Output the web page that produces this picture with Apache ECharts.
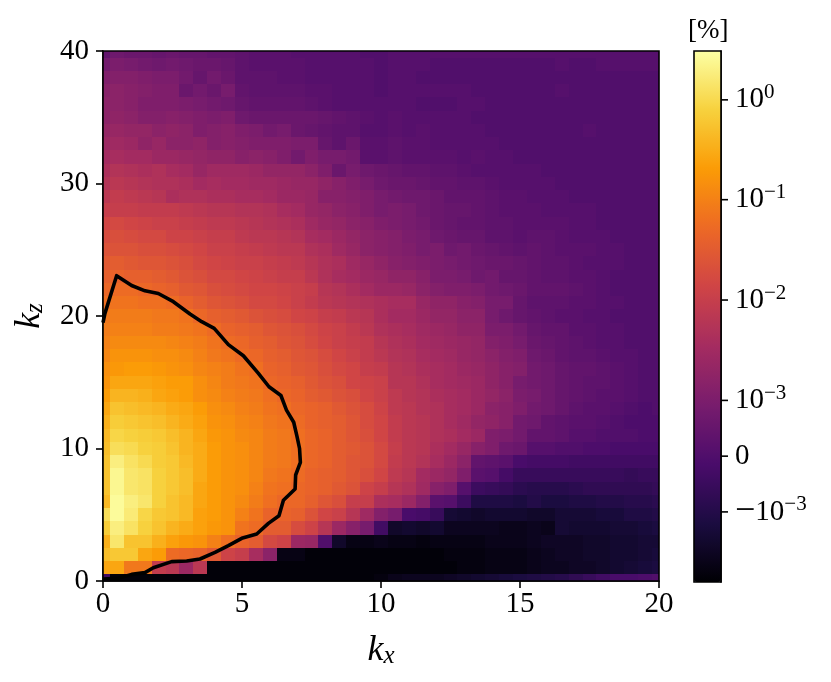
<!DOCTYPE html>
<html><head><meta charset="utf-8">
<script src="https://cdn.jsdelivr.net/npm/echarts@6/dist/echarts.min.js"></script>
<style>html,body{margin:0;padding:0;background:#fff}#c{width:831px;height:682px}</style></head>
<body><div id="c"></div>
<script>
const kx = Array.from({length:41},(_,i)=>i*0.5);
const kz40=[28,31,30,30,29,30,29,29,28,28,27,26,26,26,25,25,25,25,25,24,24,25,25,25,25,25,25,25,25,25,25,25,25,25,25,25,25,25,25,25,25];
const kz39=[32,34,33,32,31,32,31,30,30,29,27,26,26,26,26,25,25,25,25,25,24,25,25,25,24,24,24,24,24,24,24,24,24,25,24,24,25,25,25,25,25];
const kz38=[35,36,36,35,34,34,32,29,32,30,27,27,27,26,26,25,25,25,25,25,24,25,25,24,24,24,24,24,24,24,24,24,24,24,24,24,24,24,24,24,24];
const kz37=[37,38,37,36,35,35,30,32,30,33,28,27,27,27,27,26,26,25,25,25,24,25,25,25,25,25,25,24,24,24,24,24,24,25,24,24,24,24,24,24,24];
const kz36=[38,38,37,35,35,35,34,33,32,31,29,28,28,28,28,27,26,25,25,25,25,25,25,24,24,24,25,25,24,24,24,24,24,24,24,24,24,24,24,24,24];
const kz35=[38,39,38,36,36,37,36,35,34,35,31,30,30,30,30,30,29,28,27,26,25,26,25,25,25,25,25,24,24,24,24,24,24,24,24,24,24,24,24,24,24];
const kz34=[40,41,40,40,38,39,38,35,36,37,35,34,32,33,30,29,28,27,27,25,25,26,25,26,25,25,25,25,24,24,24,24,24,24,24,25,24,24,24,24,24];
const kz33=[42,43,42,39,41,38,38,39,36,37,36,35,35,35,34,34,29,27,30,26,26,27,26,26,25,25,25,25,25,24,24,24,24,24,24,24,24,24,24,24,24];
const kz32=[44,45,44,44,42,42,41,40,39,39,37,38,37,35,32,35,33,33,32,26,26,27,26,26,26,26,25,26,25,25,24,24,24,24,24,24,24,24,24,24,24];
const kz31=[46,48,47,46,47,45,44,41,43,43,43,42,40,40,40,38,35,30,33,31,30,29,28,28,27,27,26,25,25,25,25,25,24,24,24,24,24,24,24,24,24];
const kz30=[48,50,49,48,47,47,46,44,45,44,44,43,43,42,41,41,39,37,35,33,31,30,30,29,28,28,27,27,26,25,25,25,25,24,24,24,24,24,24,24,24];
const kz29=[50,52,51,50,49,46,47,47,46,46,45,45,44,42,42,41,37,37,36,35,33,32,31,31,30,28,28,28,27,26,26,25,25,25,24,24,24,24,24,24,24];
const kz28=[53,53,53,52,52,52,51,50,49,49,48,48,47,45,44,41,40,38,37,35,33,34,33,31,30,29,29,28,27,26,26,26,25,25,25,25,24,24,24,24,24];
const kz27=[56,57,56,55,54,54,53,52,51,51,50,49,48,47,46,43,41,40,38,37,35,34,33,32,30,29,28,28,27,27,26,26,26,26,25,25,24,24,24,24,24];
const kz26=[58,59,58,57,57,55,55,54,53,53,51,50,50,49,48,45,44,42,40,38,37,36,34,33,31,30,29,29,27,27,26,27,27,26,25,25,25,24,24,24,24];
const kz25=[60,60,60,59,59,58,57,56,54,54,53,52,51,50,50,47,46,43,41,38,37,36,35,33,34,31,32,30,29,28,27,28,27,26,26,26,25,25,24,24,24];
const kz24=[62,63,62,61,61,60,59,57,56,55,54,54,53,52,51,49,47,46,43,41,39,37,36,35,34,33,32,31,30,30,29,28,27,27,26,25,25,25,24,24,24];
const kz23=[64,65,64,64,63,62,60,59,57,57,56,55,54,53,53,50,47,45,44,42,41,39,39,37,34,34,33,31,32,29,29,28,27,27,26,26,25,24,24,24,24];
const kz22=[66,67,67,66,65,64,62,61,59,58,57,56,56,55,54,53,49,48,46,44,42,42,41,38,36,35,35,34,32,31,30,28,28,28,27,26,25,24,24,24,24];
const kz21=[68,69,69,68,68,67,65,63,61,60,59,57,57,56,54,52,50,49,48,47,46,45,45,41,39,39,37,36,33,33,29,27,27,27,26,26,25,25,24,24,24];
const kz20=[70,71,71,71,70,70,69,66,64,63,62,60,59,58,56,55,53,52,50,49,46,44,44,42,40,40,38,38,33,31,29,28,27,26,26,25,25,24,24,24,24];
const kz19=[71,72,72,72,71,71,70,69,67,65,64,63,61,60,59,57,55,54,52,50,47,46,45,43,42,41,39,39,34,34,32,29,28,28,26,26,25,25,24,24,24];
const kz18=[72,74,74,74,74,73,72,71,69,67,66,64,63,61,60,58,56,54,53,52,49,47,46,44,43,42,41,40,36,35,33,30,29,28,27,26,25,25,24,24,24];
const kz17=[73,76,76,76,75,75,74,72,70,69,67,66,64,63,61,60,58,56,54,52,50,48,47,45,44,43,41,40,38,36,35,31,30,28,27,27,26,25,25,24,24];
const kz16=[75,77,78,78,77,76,75,73,72,71,69,68,65,64,62,61,59,57,56,53,52,49,48,46,45,44,42,41,39,37,36,32,31,29,28,28,27,26,25,24,24];
const kz15=[76,80,80,80,79,78,78,75,73,71,70,69,66,65,64,62,60,59,56,55,54,49,49,47,45,44,43,42,39,37,33,32,31,29,28,27,27,26,25,24,24];
const kz14=[78,83,83,82,80,79,78,75,74,72,71,70,68,66,65,63,62,60,59,56,54,51,49,48,46,45,44,42,40,38,34,33,31,29,28,27,26,26,25,24,24];
const kz13=[80,86,85,84,83,81,80,78,75,74,72,71,69,68,66,65,64,62,60,58,55,51,50,48,47,45,44,42,38,37,35,32,31,29,27,26,26,25,24,23,24];
const kz12=[82,88,87,86,85,83,81,79,76,75,73,72,70,69,67,65,64,63,61,58,56,52,50,49,47,45,43,40,39,37,32,31,28,27,26,26,25,24,23,23,23];
const kz11=[84,90,89,88,87,85,83,80,77,76,74,73,71,70,68,66,65,63,61,59,56,52,50,49,47,46,44,42,35,34,32,28,28,27,25,25,24,24,24,23,23];
const kz10=[85,92,91,89,88,86,83,81,78,76,75,73,71,70,68,66,65,63,62,60,57,53,50,49,46,44,41,37,35,31,30,25,25,24,24,23,23,22,22,22,22];
const kz9 =[86,96,93,91,88,87,84,81,78,76,75,73,71,70,68,66,65,63,61,60,57,52,50,48,45,42,38,28,27,26,22,21,21,21,20,20,20,20,20,20,20];
const kz8 =[86,98,94,93,89,87,85,81,78,76,75,73,70,69,67,65,64,63,61,59,56,51,49,44,42,40,35,26,25,21,18,18,18,18,18,18,18,18,17,18,18];
const kz7 =[86,98,94,93,89,87,85,80,78,76,75,72,69,68,66,65,64,62,60,55,53,49,47,43,37,35,25,19,18,17,15,14,14,14,15,16,16,16,16,16,17];
const kz6 =[84,99,96,94,89,86,84,80,78,76,74,71,68,66,66,64,61,59,53,53,46,45,42,36,26,25,19,12,12,12,11,13,11,11,12,12,13,13,14,14,15];
const kz5 =[92,99,95,90,87,86,84,79,78,76,72,69,65,65,64,60,56,54,49,43,36,33,22,21,18,9,8,7,8,8,8,7,7,9,9,9,10,10,12,12,13];
const kz4 =[88,96,93,89,86,83,81,79,77,76,69,67,63,63,58,55,49,42,37,33,20,7,8,7,8,5,5,5,5,4,4,5,4,9,8,8,8,9,9,10,11];
const kz3 =[82,94,86,86,82,79,77,76,72,68,65,63,57,55,42,41,24,7,3,3,4,3,3,2,3,3,3,3,4,4,4,5,6,6,6,7,7,8,8,9,9];
const kz2 =[85,87,87,80,78,67,66,65,62,55,53,45,38,3,3,1,1,1,1,1,1,1,1,1,1,2,2,2,3,3,3,4,5,6,6,7,7,8,8,9,10];
const kz1 =[80,80,70,70,52,50,42,50,1,1,1,1,1,1,1,1,1,1,1,1,1,1,1,1,1,1,2,2,3,3,3,4,5,5,6,6,7,8,9,10,11];
const kz0 =[20,1,1,1,1,1,1,1,1,1,1,1,1,1,1,1,1,1,1,1,2,4,5,5,5,6,7,8,9,10,11,12,13,14,16,18,20,22,22,23,24];
const rows=[kz0,kz1,kz2,kz3,kz4,kz5,kz6,kz7,kz8,kz9,kz10,kz11,kz12,kz13,kz14,kz15,kz16,kz17,kz18,kz19,kz20,kz21,kz22,kz23,kz24,kz25,kz26,kz27,kz28,kz29,kz30,kz31,kz32,kz33,kz34,kz35,kz36,kz37,kz38,kz39,kz40];

// Black contour line (kx, kz)
const contour=[[0,19.5],[0.07,20.2],[0.49,23.04],[1.03,22.3],[1.51,21.9],[1.99,21.7],[2.53,21.08],[3.13,20.15],[3.55,19.57],[4.0,19.07],[4.51,17.84],[5.05,17.0],[5.59,15.67],[5.97,14.66],[6.4,14.0],[6.6,12.9],[6.86,11.98],[6.98,10.9],[7.07,10.0],[7.1,8.96],[6.93,8.0],[6.91,6.94],[6.49,6.09],[6.33,4.93],[5.95,4.35],[5.53,3.55],[4.99,3.22],[4.51,2.67],[4.03,2.16],[3.49,1.66],[3.01,1.51],[2.47,1.46],[1.81,1.0],[1.51,0.63],[1.03,0.5],[0.55,0.2],[0,0.15]];

const barTicks=[90.8,72,53.1,34.2,23.7,13.2];
const barLabels=['{b|10}{s|0}','{b|10}{s|−1}','{b|10}{s|−2}','{b|10}{s|−3}','{b|0}','{m|−}{b|10}{s|−3}'];
const inferno=['#000004','#1b0c41','#4a0c6b','#781c6d','#a52c60','#cf4446','#ed6925','#fb9b06','#f7d13d','#fcffa4'];

const cells=[];
rows.forEach((r,j)=>r.forEach((v,i)=>cells.push([kx[i],j,v])));
const F='"Liberation Serif",serif';
const line={show:true,onZero:false,lineStyle:{color:'#000',width:1.6}};
const tick={show:true,length:7,lineStyle:{color:'#000',width:1.6}};
const kStyle={fontFamily:F,fontStyle:'italic',fontSize:36,color:'#000'};
const subStyle={fontFamily:F,fontStyle:'italic',fontSize:25,color:'#000',verticalAlign:'bottom',padding:[10,0,0,0]};
const gridBox={show:true,borderColor:'#000',borderWidth:1.6,backgroundColor:'transparent',outerBoundsMode:'none',z:3};
const option={
  animation:false,
  backgroundColor:'#fff',
  title:{text:'[%]',left:688,top:17,padding:0,textStyle:{fontFamily:F,fontWeight:'normal',fontSize:27,color:'#000'}},
  grid:[Object.assign({left:103,top:51,width:556,height:530},gridBox),Object.assign({left:694,top:51,width:27,height:531},gridBox,{z:6})],
  visualMap:{type:'continuous',seriesIndex:0,dimension:2,min:0,max:100,calculable:false,show:true,
    left:694,top:51,itemWidth:27,itemHeight:531,text:null,padding:0,showLabel:false,
    realtime:false,inRange:{color:inferno},hoverLink:false,textStyle:{color:'transparent'}},
  xAxis:[
    {type:'value',gridIndex:0,position:'bottom',min:0,max:20,interval:5,
     axisLine:line,axisTick:tick,splitLine:{show:false},
     axisLabel:{fontFamily:F,fontSize:29,color:'#000',margin:9,showMinLabel:true,showMaxLabel:true},
     name:'{k|k}{x|x}',nameLocation:'middle',nameGap:52,
     nameTextStyle:{rich:{k:kStyle,x:subStyle}}},
    {type:'value',gridIndex:1,position:'bottom',min:0,max:1,axisLine:{show:false},axisTick:{show:false},axisLabel:{show:false},splitLine:{show:false}}
  ],
  yAxis:[
    {type:'value',gridIndex:0,position:'left',min:0,max:40,interval:10,
     axisLine:line,axisTick:tick,splitLine:{show:false},
     axisLabel:{fontFamily:F,fontSize:29,color:'#000',margin:14,showMinLabel:true,showMaxLabel:true},
     name:'{k|k}{z|z}',nameLocation:'middle',nameGap:55,nameRotate:90,
     nameTextStyle:{rich:{k:kStyle,z:subStyle}}},
    {type:'value',gridIndex:1,position:'right',min:0,max:100,
     axisLine:line,axisTick:{show:false},splitLine:{show:false},
     axisLabel:{margin:14,customValues:barTicks,formatter:v=>barLabels[barTicks.indexOf(v)]||'',
       rich:{b:{fontFamily:F,fontSize:29,color:'#000'},m:{fontFamily:F,fontSize:36,color:'#000'},s:{fontFamily:F,fontSize:21,color:'#000',verticalAlign:'top',padding:[0,0,14,0]}}}}
  ],
  series:[
    {type:'custom',xAxisIndex:0,yAxisIndex:0,clip:true,encode:{x:0,y:1},data:cells,silent:true,z:1,
     renderItem:(params,api)=>{
       const x=api.value(0),y=api.value(1);
       const a=api.coord([x-0.25,y+0.5]),b=api.coord([x+0.25,y-0.5]);
       const x0=Math.round(a[0]),y0=Math.round(a[1]),x1=Math.round(b[0]),y1=Math.round(b[1]);
       return {type:'rect',shape:{x:x0,y:y0,width:x1-x0,height:y1-y0},style:{fill:api.visual('color')}};
     }},
    {type:'line',xAxisIndex:0,yAxisIndex:0,data:contour,showSymbol:false,symbol:'none',z:5,
     lineStyle:{color:'#000',width:3.6,join:'round'}},
    {type:'custom',xAxisIndex:1,yAxisIndex:1,clip:false,silent:true,z:7,encode:{x:0,y:1},data:barTicks.map(v=>[1,v]),
     renderItem:(params,api)=>{
       const p=api.coord([api.value(0),api.value(1)]);
       return {type:'line',shape:{x1:p[0],y1:p[1],x2:p[0]+7,y2:p[1]},style:{stroke:'#000',lineWidth:1.6}};
     }}
  ]
};
const chart=echarts.init(document.getElementById('c'),null,{renderer:'canvas'});
chart.setOption(option);
</script></body></html>
